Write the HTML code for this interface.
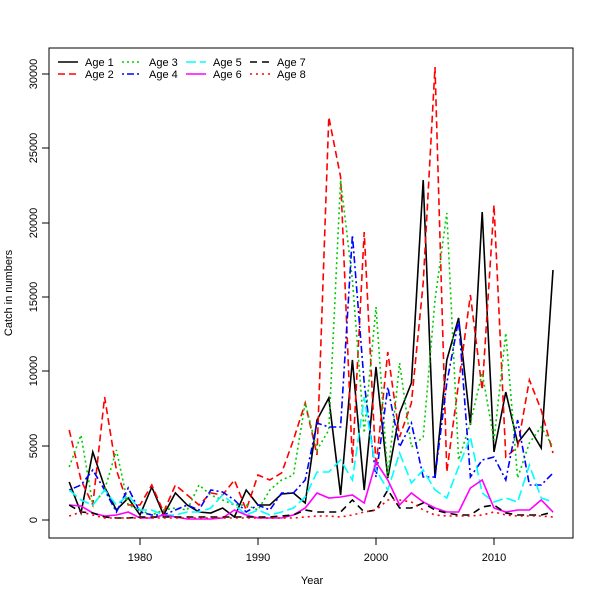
<!DOCTYPE html>
<html><head><meta charset="utf-8"><style>body{margin:0;background:#fff}svg{display:block}</style></head>
<body>
<svg id="s" width="600" height="600" xmlns="http://www.w3.org/2000/svg" font-family="Liberation Sans, sans-serif" font-size="11">
<rect x="49" y="48" width="524" height="490" fill="none" stroke="#000"/>
<g stroke="#000">
<line x1="140" y1="538" x2="140" y2="545"/><line x1="258" y1="538" x2="258" y2="545"/><line x1="376" y1="538" x2="376" y2="545"/><line x1="494" y1="538" x2="494" y2="545"/>
<line x1="42" y1="520" x2="49" y2="520"/><line x1="42" y1="446" x2="49" y2="446"/><line x1="42" y1="371" x2="49" y2="371"/><line x1="42" y1="297" x2="49" y2="297"/><line x1="42" y1="223" x2="49" y2="223"/><line x1="42" y1="148" x2="49" y2="148"/><line x1="42" y1="74" x2="49" y2="74"/>
</g>
<g text-anchor="middle">
<text x="140" y="561">1980</text><text x="258" y="561">1990</text><text x="376" y="561">2000</text><text x="494" y="561">2010</text>
<text x="312" y="584">Year</text>
<text transform="translate(37,520) rotate(-90)">0</text>
<text transform="translate(37,446) rotate(-90)">5000</text>
<text transform="translate(37,371) rotate(-90)">10000</text>
<text transform="translate(37,297) rotate(-90)">15000</text>
<text transform="translate(37,223) rotate(-90)">20000</text>
<text transform="translate(37,148) rotate(-90)">25000</text>
<text transform="translate(37,74) rotate(-90)">30000</text>
<text transform="translate(12,293) rotate(-90)">Catch in numbers</text>
</g>
<g id="series" fill="none" stroke-width="1.6"></g>
<g id="leg"></g>
</svg>
<script>
var A=[
[482,513,452,487,510,498,515,487,515,493,505,512,513,508,517,490,505,505,494,493,503,420,398,495,360,490,367,478,413,383,180,478,360,318,425,212,452,392,443,428,448,270],
[430,480,505,397,470,505,505,485,512,485,495,505,493,495,480,510,475,480,473,440,403,455,117,177,463,232,467,352,437,403,283,67,472,383,295,390,205,457,447,380,410,453],
[467,435,505,490,450,505,510,515,510,508,510,485,495,500,505,505,510,490,480,475,403,450,430,180,280,433,307,477,363,447,437,300,213,460,423,373,440,333,478,443,427,447],
[490,485,470,490,512,488,512,515,515,510,505,510,490,492,500,512,505,510,493,493,480,423,427,427,235,383,477,387,447,423,477,477,383,320,477,460,457,480,420,485,485,473],
[490,500,505,490,505,495,510,510,515,515,512,512,508,495,505,515,510,515,512,508,497,472,472,460,480,397,470,490,453,483,470,490,498,467,437,493,502,498,502,465,498,502],
[505,506,513,516,515,512,518,518,515,517,519,519,519,518,510,515,518,518,518,515,508,493,498,497,495,503,462,480,505,493,502,508,512,512,488,480,508,512,510,510,500,512],
[505,512,513,517,518,518,517,517,517,517,517,517,517,517,517,517,517,517,516,515,510,512,512,512,500,512,510,490,508,508,503,510,513,515,515,507,505,513,515,515,515,512],
[516,512,515,518,518,518,518,518,518,518,518,518,518,518,518,518,518,518,518,518,517,516,516,517,515,512,510,500,500,502,510,515,516,516,516,515,512,515,516,516,516,517]];
var st=[["#000",""],["#f00","7,4"],["#0c0","2,3"],["#00f","2,3,7,3"],["#0ff","10,4"],["#f0f",""],["#000","7,5"],["#f00","2,4"]];
var g=document.getElementById("series"),L=document.getElementById("leg"),ns="http://www.w3.org/2000/svg";
A.forEach(function(d,i){var p=document.createElementNS(ns,"polyline");p.setAttribute("points",d.map(function(v,j){return (69.2+11.8*j).toFixed(1)+","+v}).join(" "));p.setAttribute("stroke",st[i][0]);if(st[i][1])p.setAttribute("stroke-dasharray",st[i][1]);g.appendChild(p);
var cx=58+64*Math.floor(i/2),cy=62+12*(i%2);var l=document.createElementNS(ns,"line");l.setAttribute("x1",cx);l.setAttribute("x2",cx+20);l.setAttribute("y1",cy);l.setAttribute("y2",cy);l.setAttribute("stroke",st[i][0]);l.setAttribute("stroke-width","1.6");if(st[i][1])l.setAttribute("stroke-dasharray",st[i][1]);L.appendChild(l);
var t=document.createElementNS(ns,"text");t.setAttribute("x",cx+27);t.setAttribute("y",cy+4);t.textContent="Age "+(i+1);L.appendChild(t);});
</script>
</body></html>
